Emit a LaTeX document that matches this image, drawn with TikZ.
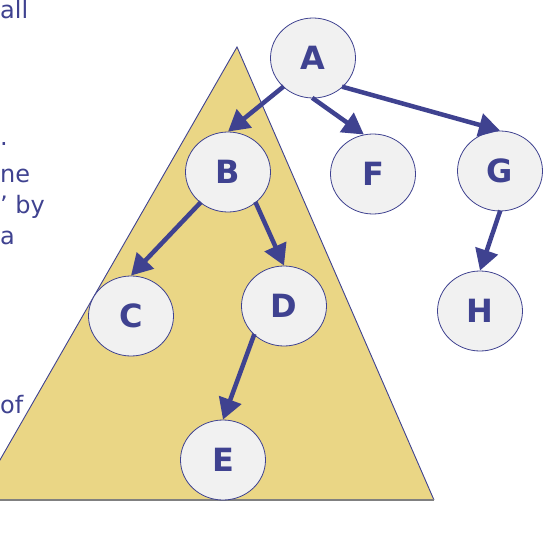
\documentclass[tikz,border=0pt]{standalone}
\usepackage{fontspec}
\setmainfont{DejaVu Sans}
\usepackage{tikz}
\usetikzlibrary{shapes.geometric, arrows.meta}
\definecolor{navy}{HTML}{3F4290}
\definecolor{sand}{HTML}{EAD685}
\definecolor{nodefill}{HTML}{F1F1F1}
\tikzstyle{treenode} = [
    ellipse, minimum width=85pt, minimum height=80pt, inner sep=0pt,
    draw=navy, line width=0.8pt, fill=nodefill, text=navy,
    font=\fontsize{32}{36}\selectfont\bfseries
]
\tikzstyle{side} = [anchor=base west, inner sep=0pt, text=navy,
    font=\fontsize{24}{28}\selectfont]
\tikzstyle{arrow} = [navy, line width=4.5pt,
    -{Triangle[length=21pt, width=23pt]}, shorten <=-1pt]

\begin{document}
\begin{tikzpicture}[x=1pt, y=-1pt]
        \useasboundingbox (0,0) rectangle (557,533);
        \clip (0,0) rectangle (557,533);
        % subtree
        \fill[sand] (237,47) -- (434,500) -- (-23,500) -- cycle;
        \draw[navy, line width=0.9pt] (-23,500) -- (237,47) -- (434,500);
        \draw[gray, line width=1.6pt] (-23,500) -- (434,500);
        % text cut off at the left
        \node (t1) [side] at (0,18) {all};
        \node (t2) [side] at (0,145) {.};
        \node (t3) [side] at (0,182) {ne};
        \node (t4) [side] at (0,213) {’ by};
        \node (t5) [side] at (0,244) {a};
        \node (t6) [side] at (0,413) {of};

        \node (A) [treenode] at (313,58) {A};
        \node (B) [treenode] at (228,172) {B};
        \node (F) [treenode] at (373,174) {F};
        \node (G) [treenode] at (500,171) {G};
        \node (C) [treenode] at (131,316) {C};
        \node (D) [treenode] at (284,306) {D};
        \node (H) [treenode] at (480,311) {H};
        \node (E) [treenode] at (223,460) {E};

        \draw [arrow] (A.224) -- (B.north);
        \draw [arrow] (A.south) -- (F.103);
        \draw [arrow] (A.316) -- (G.north);
        \draw [arrow] (B.228) -- (C.north);
        \draw [arrow] (B.312) -- (D.north);
        \draw [arrow] (D.224) -- (E.north);
        \draw [arrow] (G.south) -- (H.north);
    \end{tikzpicture}
\end{document}
